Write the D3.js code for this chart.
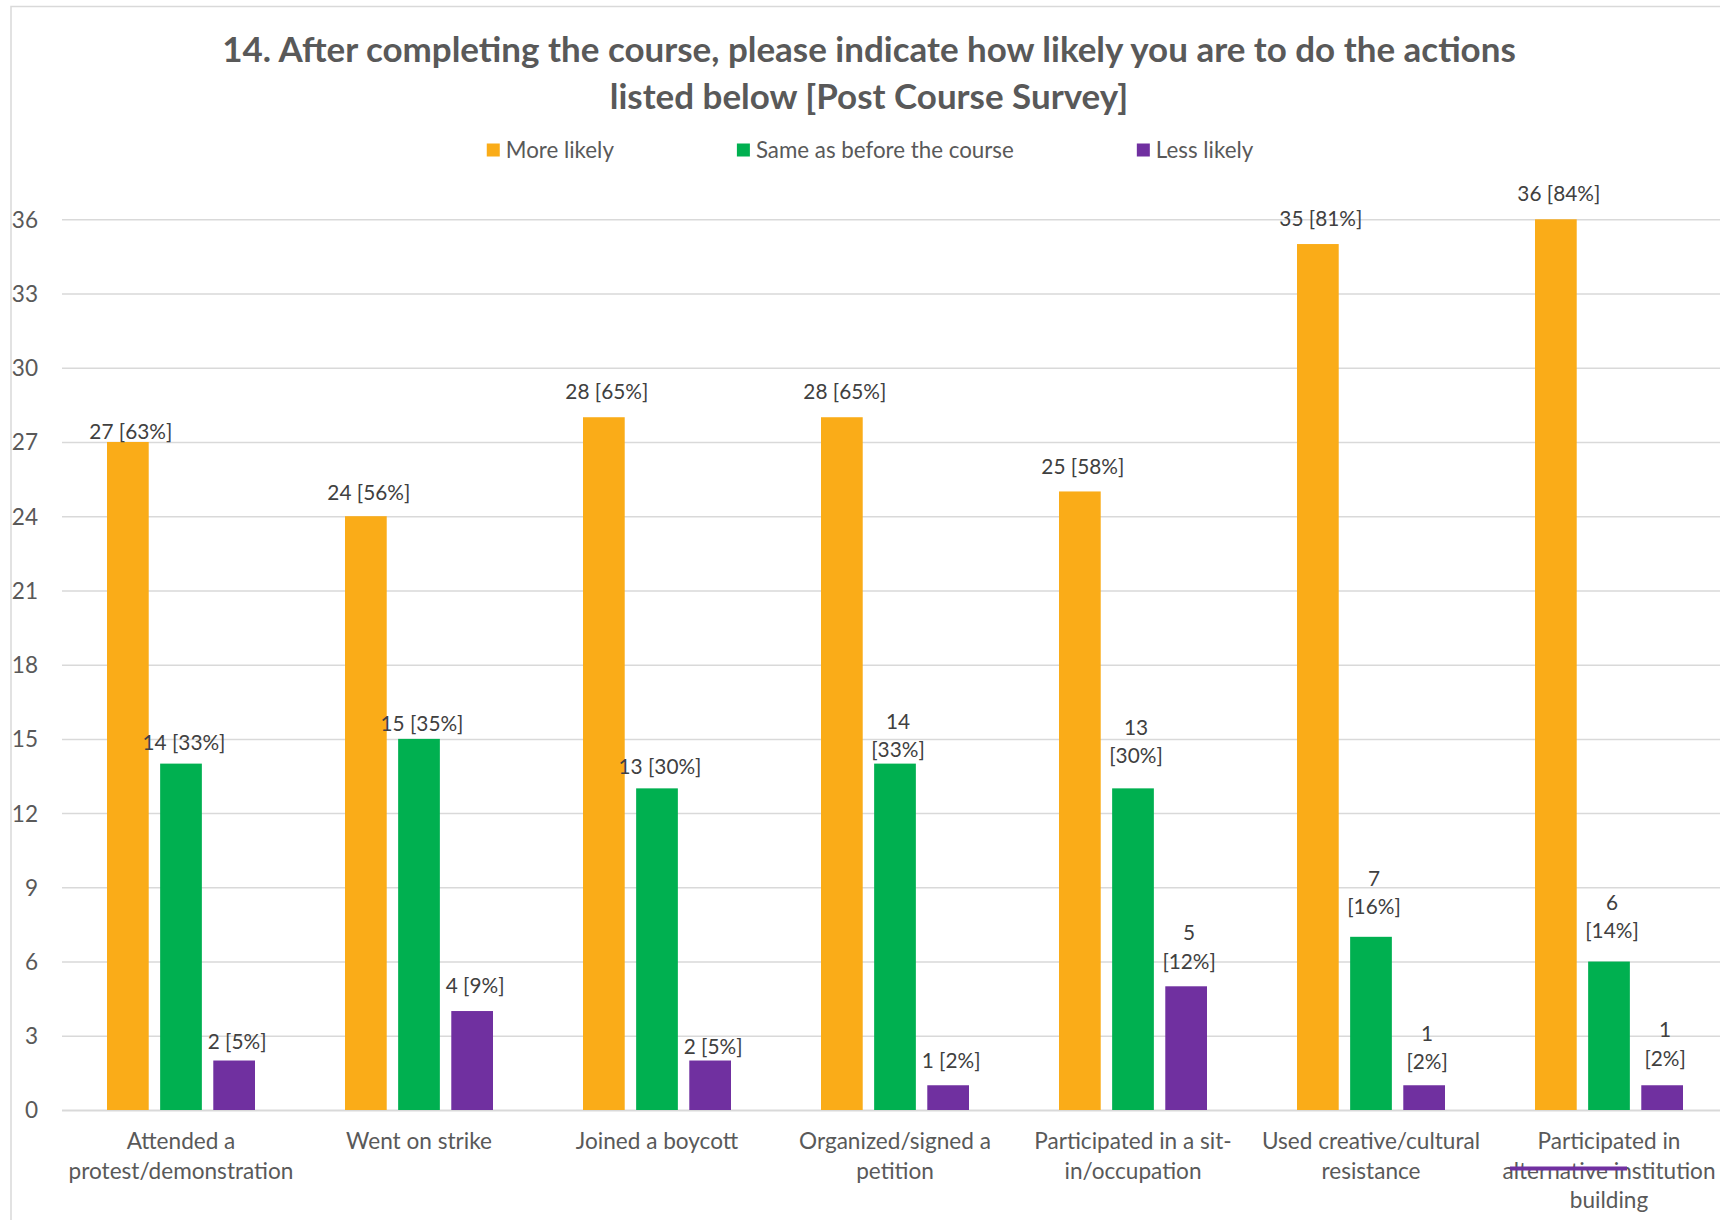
<!DOCTYPE html>
<html><head><meta charset="utf-8">
<script src="https://cdn.jsdelivr.net/npm/d3@7"></script>
<style>body{margin:0;background:#fff}svg{display:block}</style>
</head><body>
<svg id="c" width="1720" height="1220"></svg>
<script>
// ---- data ----
const titleLines = ["14. After completing the course, please indicate how likely you are to do the actions", "listed below [Post Course Survey]"];
const categories = ["Attended a\nprotest/demonstration", "Went on strike", "Joined a boycott", "Organized/signed a\npetition", "Participated in a sit-\nin/occupation", "Used creative/cultural\nresistance", "Participated in\nalternative institution\nbuilding"];
const seriesNames = ["More likely", "Same as before the course", "Less likely"];
const moreLikely = [27, 24, 28, 28, 25, 35, 36];
const moreLikelyPct = [63, 56, 65, 65, 58, 81, 84];
const sameAsBefore = [14, 15, 13, 14, 13, 7, 6];
const sameAsBeforePct = [33, 35, 30, 33, 30, 16, 14];
const lessLikely = [2, 4, 2, 1, 5, 1, 1];
const lessLikelyPct = [5, 9, 5, 2, 12, 2, 2];
const moreLikelyWrap = [0, 0, 0, 0, 0, 0, 0];
const sameAsBeforeWrap = [0, 0, 0, 1, 1, 1, 1];
const lessLikelyWrap = [0, 0, 0, 0, 1, 1, 1];
const yTicks = [0, 3, 6, 9, 12, 15, 18, 21, 24, 27, 30, 33, 36];

// ---- layout / style (kept apart from the data) ----
const colors = ["#FAAC18", "#00B050", "#7030A0"];
// how far each data label sits above its bar (manually placed labels in the original)
const moreLikelyLift = [10.6, 23.6, 25.6, 25.6, 25.2, 25.7, 26];
const sameAsBeforeLift = [21, 14.7, 21.6, 13.6, 32.3, 30, 30.6];
const lessLikelyLift = [18.8, 25.7, 14, 24.6, 24.7, 23.4, 26.7];

const series = [
  {name: seriesNames[0], values: moreLikely, pct: moreLikelyPct, wrap: moreLikelyWrap, lift: moreLikelyLift, color: colors[0]},
  {name: seriesNames[1], values: sameAsBefore, pct: sameAsBeforePct, wrap: sameAsBeforeWrap, lift: sameAsBeforeLift, color: colors[1]},
  {name: seriesNames[2], values: lessLikely, pct: lessLikelyPct, wrap: lessLikelyWrap, lift: lessLikelyLift, color: colors[2]}
];

const FONT = "Lato, Carlito, 'Open Sans', sans-serif";
const svg = d3.select("#c");

function fit(text, weight, target, base) {
  const t = svg.append("text").attr("font-family", FONT).attr("font-weight", weight)
    .attr("font-size", base).text(text);
  const w = t.node().getComputedTextLength();
  t.remove();
  return base * target / w;
}
const titleSize = fit(titleLines[0], 700, 1294, 30);
const bodySize = fit("protest/demonstration", 400, 225, 20);
const legendSize = fit(seriesNames[1], 400, 258, 20);
const labelSize = fit("27 [63%]", 400, 83, 20);

// chart frame
svg.append("rect").attr("x", 11).attr("y", 6.5).attr("width", 1740).attr("height", 1260)
  .attr("fill", "#fff").attr("stroke", "#d9d9d9").attr("stroke-width", 1.5);

const x0 = 62, bandW = 238;
const x = d3.scaleBand().domain(categories).range([x0, x0 + bandW * categories.length]).padding(0);
const xs = d3.scaleBand().domain(seriesNames).range([45, 193]).paddingInner(0.215).paddingOuter(0);
const y = d3.scaleLinear().domain([0, 36]).range([1110, 219.3]);

// title
svg.append("g").selectAll("text").data(titleLines).join("text")
  .attr("x", 869).attr("y", (d, i) => 50 + i * 46.5).attr("dy", "0.35em")
  .attr("text-anchor", "middle").attr("font-family", FONT).attr("font-weight", 700)
  .attr("font-size", titleSize).attr("fill", "#595959").text(d => d);

// legend
const legendG = svg.append("g");
const itemW = seriesNames.map(n => {
  const t = legendG.append("text").attr("font-family", FONT).attr("font-size", legendSize).text(n);
  const w = t.node().getComputedTextLength(); t.remove(); return 19 + w;
});
const gap = 123;
const total = d3.sum(itemW) + gap * (seriesNames.length - 1);
let lx = 870 - total / 2;
seriesNames.forEach((n, i) => {
  const g = legendG.append("g").attr("transform", `translate(${lx},150)`);
  g.append("rect").attr("x", 0).attr("y", -6.5).attr("width", 13).attr("height", 13).attr("fill", colors[i]);
  g.append("text").attr("x", 19).attr("dy", "0.35em").attr("font-family", FONT)
    .attr("font-size", legendSize).attr("fill", "#595959").text(n);
  lx += itemW[i] + gap;
});

// gridlines + y axis
const yAxis = d3.axisLeft(y).tickValues(yTicks).tickSize(-(1720 - x0)).tickFormat(d3.format("d"));
const ga = svg.append("g").attr("transform", `translate(${x0},0)`).call(yAxis);
ga.select(".domain").remove();
ga.selectAll(".tick line").attr("stroke", "#d9d9d9").attr("stroke-width", d => d === 0 ? 2 : 1.5);
ga.selectAll(".tick text").attr("x", -24).attr("font-family", FONT).attr("font-size", bodySize)
  .attr("fill", "#595959").attr("dy", "0.35em");

// bars + labels
const groups = svg.append("g").selectAll("g").data(categories).join("g")
  .attr("transform", d => `translate(${x(d)},0)`);
series.forEach(s => {
  groups.append("rect")
    .attr("x", xs(s.name)).attr("width", xs.bandwidth())
    .attr("y", (d, i) => y(s.values[i]))
    .attr("height", (d, i) => y(0) - y(s.values[i]))
    .attr("fill", s.color);
});
series.forEach(s => {
  groups.each(function(d, i) {
    const lines = s.wrap[i] ? [String(s.values[i]), `[${s.pct[i]}%]`] : [`${s.values[i]} [${s.pct[i]}%]`];
    const cx = xs(s.name) + xs.bandwidth() / 2 + 3;
    const top = y(s.values[i]);
    d3.select(this).append("g").selectAll("text").data(lines).join("text")
      .attr("x", cx).attr("y", (l, k) => top - s.lift[i] - (lines.length - 1 - k) * 28.5)
      .attr("dy", "0.35em").attr("text-anchor", "middle")
      .attr("font-family", FONT).attr("font-size", labelSize).attr("fill", "#404040").text(l => l);
  });
});

// category axis labels
const xl = svg.append("g");
categories.forEach(c => {
  c.split("\n").forEach((line, k) => {
    xl.append("text").attr("x", x(c) + bandW / 2).attr("y", 1141 + k * 29.6).attr("dy", "0.35em")
      .attr("text-anchor", "middle").attr("font-family", FONT).attr("font-size", bodySize)
      .attr("fill", "#595959").text(line);
  });
});

// stray purple stroke over the last category label (present in the original)
const lastC = categories[categories.length - 1];
svg.append("line").attr("x1", x(lastC) + bandW / 2 - 99).attr("x2", x(lastC) + bandW / 2 + 18)
  .attr("y1", 1141 + 29.6 - 2).attr("y2", 1141 + 29.6 - 2)
  .attr("stroke", colors[2]).attr("stroke-width", 4);
</script>
</body></html>
